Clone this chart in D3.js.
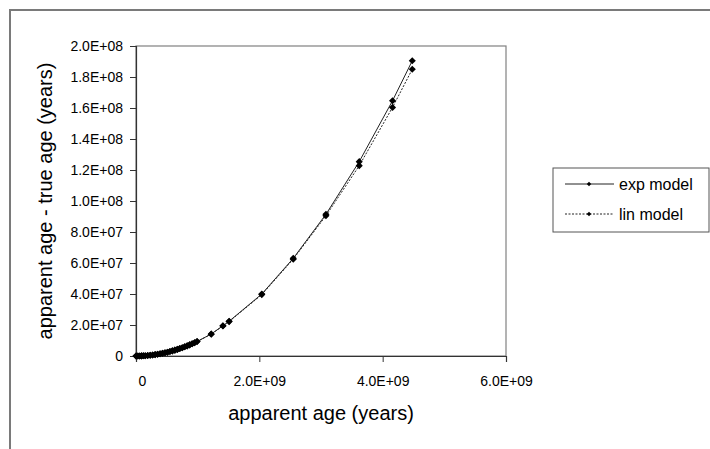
<!DOCTYPE html>
<html>
<head>
<meta charset="utf-8">
<script src="https://cdn.jsdelivr.net/npm/d3@7"></script>
<style>
  body { margin: 0; background: #fff; }
  text { font-family: "Liberation Sans", Arial, sans-serif; fill: #000; }
</style>
</head>
<body>
<svg id="chart" width="710" height="449"></svg>
<script>
// apparent age in units of 1e9 years
const apparentAge = [0.0, 0.03, 0.06, 0.09, 0.12, 0.15, 0.19, 0.23, 0.27, 0.31, 0.35, 0.39, 0.43, 0.47,
    0.51, 0.55, 0.59, 0.63, 0.67, 0.71, 0.75, 0.79, 0.83, 0.87, 0.91, 0.95, 0.99,
    1.22, 1.41, 1.51, 2.04, 2.55, 3.08, 3.62, 4.16, 4.48];
// apparent - true age in units of 1e6 years
const expModel = [0, 0.01, 0.03, 0.08, 0.14, 0.21, 0.34, 0.5, 0.69, 0.91, 1.16, 1.45, 1.76, 2.1,
    2.47, 2.87, 3.31, 3.77, 4.26, 4.79, 5.34, 5.93, 6.54, 7.19, 7.87, 8.57, 9.31,
    14.2, 19.5, 22.4, 40.0, 63.0, 91.4, 125.4, 164.7, 190.5];
const linModel = [0, 0.01, 0.03, 0.08, 0.14, 0.21, 0.34, 0.5, 0.69, 0.91, 1.16, 1.45, 1.76, 2.1,
    2.47, 2.87, 3.31, 3.77, 4.26, 4.79, 5.34, 5.93, 6.54, 7.19, 7.87, 8.57, 9.31,
    14.1, 19.4, 22.2, 39.6, 62.5, 90.5, 122.8, 160.4, 185.0];
const xTicks = [0, 2e9, 4e9, 6e9];
const xTickLabels = ["0", "2.0E+09", "4.0E+09", "6.0E+09"];
const yTicks = [0, 2e7, 4e7, 6e7, 8e7, 1e8, 1.2e8, 1.4e8, 1.6e8, 1.8e8, 2e8];
const yTickLabels = ["0", "2.0E+07", "4.0E+07", "6.0E+07", "8.0E+07", "1.0E+08",
    "1.2E+08", "1.4E+08", "1.6E+08", "1.8E+08", "2.0E+08"];
const seriesNames = ["exp model", "lin model"];

const margin = { top: 46, left: 136 };
const width = 370, height = 310;

const svg = d3.select("#chart");

// outer figure border (top and left only)
svg.append("path")
    .attr("d", "M10,449V10H710")
    .attr("fill", "none")
    .attr("stroke", "#7a7a7a")
    .attr("stroke-width", 2);

const g = svg.append("g").attr("transform", `translate(${margin.left},${margin.top})`);

const x = d3.scaleLinear().domain([0, 6e9]).range([0, width]);
const y = d3.scaleLinear().domain([0, 2e8]).range([height, 0]);

// plot frame
g.append("rect")
    .attr("width", width).attr("height", height)
    .attr("fill", "none").attr("stroke", "#808080").attr("stroke-width", 1.2);

const xAxis = g.append("g")
    .attr("transform", `translate(0,${height})`)
    .call(d3.axisBottom(x).tickValues(xTicks).tickSize(6).tickPadding(14)
        .tickFormat((d, i) => xTickLabels[i]));
const yAxis = g.append("g")
    .call(d3.axisLeft(y).tickValues(yTicks).tickSize(6).tickPadding(7)
        .tickFormat((d, i) => yTickLabels[i]));

[xAxis, yAxis].forEach(a => {
    a.select(".domain").attr("stroke", "#333").attr("stroke-width", 1.2);
    a.selectAll(".tick line").attr("stroke", "#333");
    a.selectAll(".tick text").attr("font-size", 14).attr("fill", "#111")
        .style("font-family", '"Liberation Sans", Arial, sans-serif');
});
xAxis.selectAll(".tick text").filter((d, i) => i === 0).attr("dx", 6);

const seriesData = [expModel, linModel].map(vals =>
    apparentAge.map((a, i) => ({ x: a * 1e9, y: vals[i] * 1e6 })));
const dashes = [null, "2,1.5"];

const line = d3.line().x(d => x(d.x)).y(d => y(d.y));
const marker = d3.symbol().type(d3.symbolSquare).size(25);

seriesData.forEach((data, k) => {
    g.append("path")
        .datum(data)
        .attr("d", line)
        .attr("fill", "none")
        .attr("stroke", "#222")
        .attr("stroke-width", 1)
        .attr("stroke-dasharray", dashes[k]);
    g.append("g").selectAll("path")
        .data(data)
        .join("path")
        .attr("transform", d => `translate(${x(d.x)},${y(d.y)}) rotate(45)`)
        .attr("d", marker)
        .attr("fill", "#000");
});

// axis titles
svg.append("text")
    .attr("x", margin.left + width / 2).attr("y", 420)
    .attr("text-anchor", "middle").attr("font-size", 20)
    .text("apparent age (years)");
svg.append("text")
    .attr("transform", `translate(52,${margin.top + height / 2}) rotate(-90)`)
    .attr("text-anchor", "middle").attr("font-size", 20)
    .text("apparent age - true age (years)");

// legend
const legend = svg.append("g").attr("transform", "translate(553,168)");
legend.append("rect")
    .attr("width", 156).attr("height", 64)
    .attr("fill", "#fff").attr("stroke", "#555").attr("stroke-width", 1);
seriesNames.forEach((name, k) => {
    const ly = 16 + k * 30;
    legend.append("line")
        .attr("x1", 12).attr("x2", 61).attr("y1", ly).attr("y2", ly)
        .attr("stroke", "#222").attr("stroke-dasharray", dashes[k]);
    legend.append("path")
        .attr("transform", `translate(36,${ly}) rotate(45)`)
        .attr("d", d3.symbol().type(d3.symbolSquare).size(10)).attr("fill", "#000");
    legend.append("text")
        .attr("x", 66).attr("y", ly).attr("dy", "0.35em")
        .attr("font-size", 16)
        .text(name);
});
</script>
</body>
</html>
